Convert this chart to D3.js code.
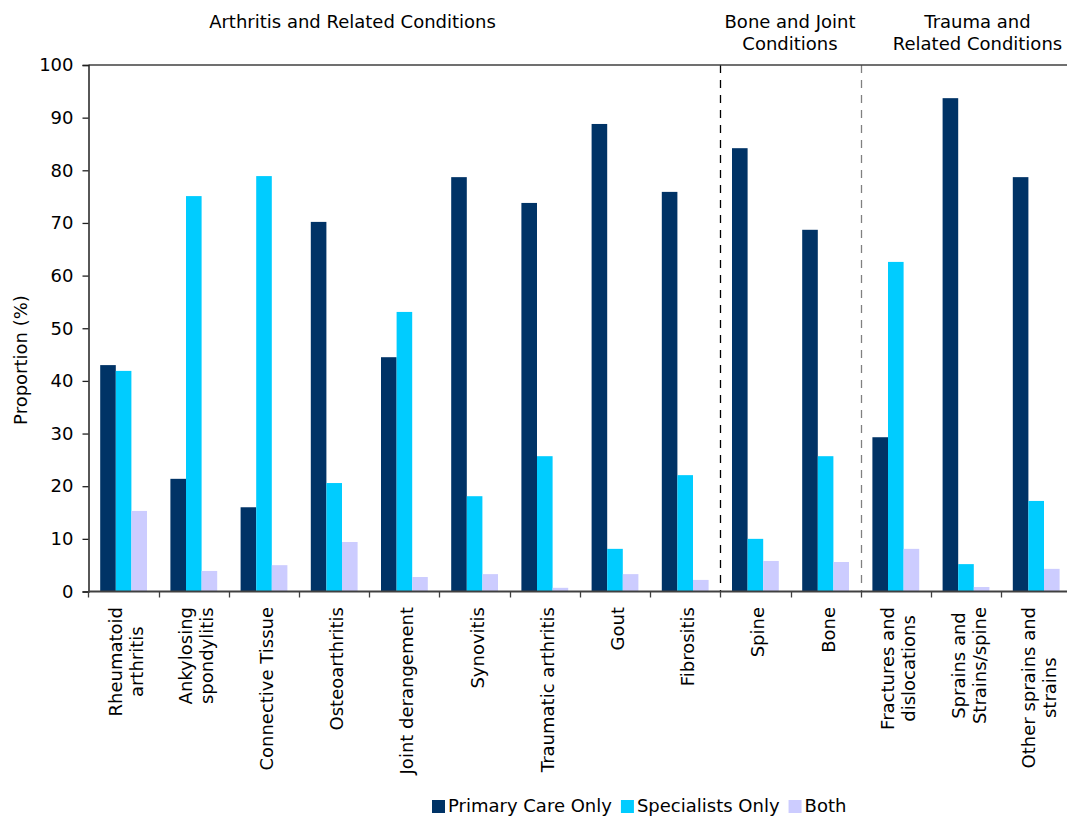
<!DOCTYPE html>
<html>
<head>
<meta charset="utf-8">
<script src="https://cdn.jsdelivr.net/npm/d3@7"></script>
<style>
  html, body { margin: 0; padding: 0; background: #fff; }
  svg { display: block; font-family: "DejaVu Sans", Verdana, sans-serif; }
</style>
</head>
<body>
<svg id="chart" width="1067" height="817"></svg>
<script>
// Category labels (each entry is the list of lines shown under the axis)
const categoryLines = [
  ["Rheumatoid", "arthritis"],
  ["Ankylosing", "spondylitis"],
  ["Connective Tissue"],
  ["Osteoarthritis"],
  ["Joint derangement"],
  ["Synovitis"],
  ["Traumatic arthritis"],
  ["Gout"],
  ["Fibrositis"],
  ["Spine"],
  ["Bone"],
  ["Fractures and", "dislocations"],
  ["Sprains and", "Strains/spine"],
  ["Other sprains and", "strains"]
];
const categories = categoryLines.map(l => l.join(" "));

const seriesNames = ["Primary Care Only", "Specialists Only", "Both"];
const seriesColors = ["#003366", "#00CCFF", "#CCCCFF"];

// Proportion (%) of patients seen by each type of provider
const primaryCare = [43.0, 21.4, 16.0, 70.2, 44.5, 78.7, 73.8, 88.8, 75.9, 84.2, 68.7, 29.3, 93.7, 78.7];
const specialists = [41.9, 75.1, 78.9, 20.6, 53.1, 18.1, 25.7, 8.1, 22.1, 10.0, 25.7, 62.6, 5.2, 17.2];
const both        = [15.3, 3.9, 5.0, 9.4, 2.75, 3.3, 0.7, 3.3, 2.2, 5.8, 5.6, 8.1, 0.85, 4.3];
const seriesValues = [primaryCare, specialists, both];

const yTicks = [0, 10, 20, 30, 40, 50, 60, 70, 80, 90, 100];

// Condition groups: heading lines and index of the first category in each group
const groupHeadings = [
  ["Arthritis and Related Conditions"],
  ["Bone and Joint", "Conditions"],
  ["Trauma and", "Related Conditions"]
];
const groupStarts = [0, 9, 11];

const svg = d3.select("#chart");
const plotLeft = 88.5, plotRight = 1071.3, plotTop = 65, plotBottom = 591.5;
const fontSize = 18;

const x = d3.scaleBand().domain(categories).range([plotLeft, plotRight]).paddingInner(0).paddingOuter(0);
const xs = d3.scaleBand().domain(seriesNames).range([0, x.bandwidth()]).paddingInner(0).paddingOuter(0.75);
const y = d3.scaleLinear().domain([0, 100]).range([plotBottom, plotTop]);

// Bars
seriesNames.forEach((s, si) => {
  svg.append("g")
    .selectAll("rect")
    .data(seriesValues[si])
    .join("rect")
    .attr("x", (d, i) => x(categories[i]) + xs(s))
    .attr("y", d => y(d))
    .attr("width", xs.bandwidth())
    .attr("height", d => y(0) - y(d))
    .attr("fill", seriesColors[si]);
});

// Dashed separators between condition groups
groupStarts.slice(1).forEach((gi, k) => {
  const gx = Math.round(x(categories[gi])) + 0.5;
  svg.append("line")
    .attr("x1", gx).attr("x2", gx)
    .attr("y1", plotTop).attr("y2", plotBottom)
    .attr("stroke", k === 0 ? "#000" : "#808080")
    .attr("stroke-width", 1.3)
    .attr("stroke-dasharray", "8,7");
});

// Plot frame: top edge
svg.append("line")
  .attr("x1", plotLeft).attr("x2", plotRight)
  .attr("y1", plotTop).attr("y2", plotTop)
  .attr("stroke", "#404040").attr("stroke-width", 1.5);

// Y axis
const yAxis = d3.axisLeft(y).tickValues(yTicks).tickSize(6).tickPadding(9);
const gy = svg.append("g").attr("transform", `translate(${plotLeft},0)`).call(yAxis);
gy.select(".domain").attr("stroke", "#202020").attr("stroke-width", 1.5);
gy.selectAll(".tick line").attr("stroke", "#202020").attr("stroke-width", 1.3);
gy.selectAll(".tick text")
  .attr("font-size", fontSize)
  .attr("font-family", "DejaVu Sans, Verdana, sans-serif")
  .attr("fill", "#000");

// X axis line with ticks at category boundaries
const xAxisG = svg.append("g");
xAxisG.append("line")
  .attr("x1", plotLeft).attr("x2", plotRight)
  .attr("y1", plotBottom).attr("y2", plotBottom)
  .attr("stroke", "#404040").attr("stroke-width", 1.8);
const boundaries = categories.map(c => x(c)).concat([plotRight]);
xAxisG.selectAll("line.tk")
  .data(boundaries)
  .join("line")
  .attr("class", "tk")
  .attr("x1", d => Math.round(d) + 0.5).attr("x2", d => Math.round(d) + 0.5)
  .attr("y1", plotBottom).attr("y2", plotBottom + 6)
  .attr("stroke", "#404040").attr("stroke-width", 1.3);

// Category labels, rotated, lines centered on each other
const labelTop = 607;
const lineGap = 21;
categoryLines.forEach((lines, i) => {
  const cx = x(categories[i]) + x.bandwidth() / 2;
  const g = svg.append("g").attr("transform", `translate(${cx},${labelTop}) rotate(-90)`);
  const texts = lines.map((ln, j) => g.append("text")
    .attr("font-size", fontSize)
    .attr("fill", "#000")
    .attr("text-anchor", "middle")
    .attr("y", (j - (lines.length - 1) / 2) * lineGap + fontSize * 0.5)
    .text(ln));
  const maxLen = d3.max(texts, t => t.node().getComputedTextLength());
  texts.forEach(t => t.attr("x", -maxLen / 2));
});

// Y axis title
svg.append("text")
  .attr("transform", `translate(27,360) rotate(-90)`)
  .attr("text-anchor", "middle")
  .attr("font-size", fontSize)
  .attr("fill", "#000")
  .text("Proportion (%)");

// Group headings above the plot
const headingCenters = [352.5, 790, 977.5];
groupHeadings.forEach((lines, gi) => {
  lines.forEach((ln, j) => {
    svg.append("text")
      .attr("x", headingCenters[gi])
      .attr("y", 28 + j * 22)
      .attr("text-anchor", "middle")
      .attr("font-size", fontSize)
      .attr("fill", "#000")
      .text(ln);
  });
});

// Legend
const legend = svg.append("g");
let lx = 432;
const legendBaseline = 812;
seriesNames.forEach((s, si) => {
  legend.append("rect")
    .attr("x", lx).attr("y", legendBaseline - 12)
    .attr("width", 13).attr("height", 13)
    .attr("fill", seriesColors[si]);
  const t = legend.append("text")
    .attr("x", lx + 16).attr("y", legendBaseline)
    .attr("font-size", fontSize)
    .attr("fill", "#000")
    .text(s);
  lx += 16 + t.node().getComputedTextLength() + 9;
});
</script>
</body>
</html>
